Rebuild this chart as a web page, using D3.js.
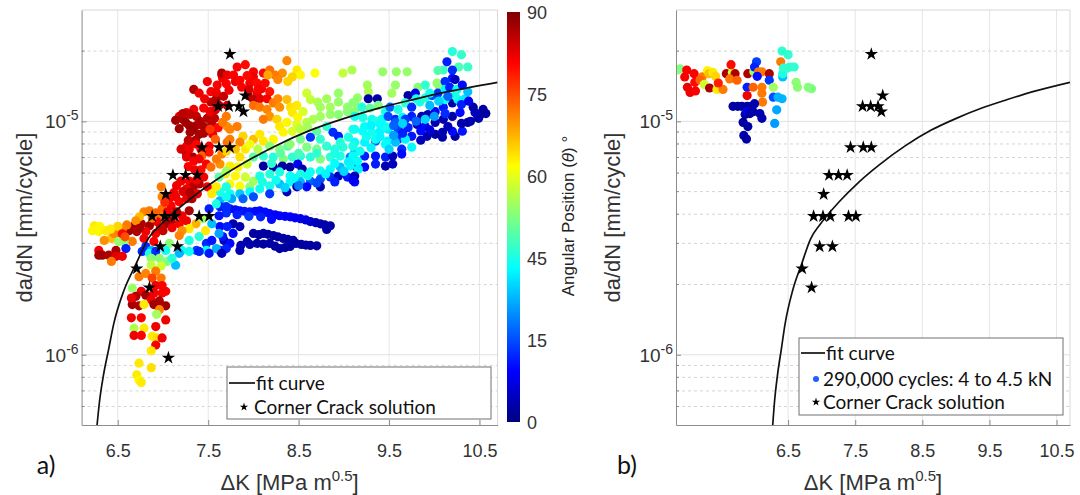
<!DOCTYPE html>
<html>
<head>
<meta charset="utf-8">
<script src="https://cdn.jsdelivr.net/npm/d3@7"></script>
<style>
  body { margin: 0; background: #fff; }
  svg { display: block; }
</style>
</head>
<body>
<svg id="chart" width="1080" height="495"></svg>
<script>
// ---- values ----
const xTicks = [6.5, 7.5, 8.5, 9.5, 10.5];
const yMajorTicks = [1e-6, 1e-5];
const yMinorTicks = [6e-7, 7e-7, 8e-7, 9e-7, 2e-6, 3e-6, 4e-6, 5e-6, 6e-6, 7e-6, 8e-6, 9e-6, 2e-5];
const angleTicks = ['0', '15', '45', '60', '75', '90'];   // colour bar labels, evenly spaced as printed
const rateUnit = 1e-6;  // da/dN values below are in units of 1e-6 mm/cycle

// fit curve
const fitDK   = [6.271, 6.30, 6.34, 6.40, 6.454, 6.569, 6.702, 6.834, 6.987, 7.254, 7.559, 7.863, 8.244, 8.626, 9.006, 9.387, 9.767, 10.148, 10.7];
const fitRate = [0.50, 0.64, 0.81, 1.06, 1.35, 1.89, 2.45, 3.13, 3.65, 4.5, 5.51, 6.53, 7.85, 9.15, 10.3, 11.4, 12.4, 13.4, 14.7];

// corner crack solution [dK, da/dN]
const crackSolution = [
  [7.74,19.4],[7.91,12.9],[7.61,11.6],[7.73,11.6],[7.84,11.6],[7.89,11.0],[7.43,7.74],[7.62,7.74],[7.74,7.74],
  [7.11,5.88],[7.25,5.88],[7.38,5.88],[7.03,4.87],[6.88,3.92],[7.02,3.92],[7.13,3.92],[7.40,3.92],[7.51,3.92],
  [6.97,2.91],[7.16,2.91],[6.71,2.34],[6.85,1.94],[7.06,0.97]
];

// panel a) measured points [dK, da/dN, angle]
const leftPoints = [
  // upper red arm
  [7.65,15.8,79],[7.66,15.3,80],[7.60,14.3,79],[7.53,13.4,79],[7.34,13.7,86],[7.40,13.2,80],[7.18,10.5,81],[7.26,10.9,82],
  [7.34,11.25,80],[7.45,11.4,79],[7.37,10.5,84],[7.29,9.6,87],[7.37,9.6,86],[7.45,9.5,86],[7.54,9.7,85],[7.62,11.7,86],
  [7.71,11.7,84],[7.59,12.5,87],[7.53,12.1,85],[7.70,10.5,68],[7.71,9.5,66],[7.26,7.83,80],[7.34,8.06,81],[7.51,7.83,79],
  [7.71,8.14,69],[7.65,16.1,86],[7.71,15.8,80],[7.78,15.8,79],[7.82,17.1,79],[7.91,17.5,78],[8.0,16.3,79],[8.0,15.5,80],
  [8.11,16.1,78],[7.80,14.8,80],[7.87,14.0,79],[7.96,14.6,79],[8.04,14.6,78],[8.09,13.8,79],[8.18,13.4,77],[8.04,13.2,80],
  [7.94,12.9,86],[8.0,12.4,85],[8.07,12.5,81],[8.15,12.5,79],[7.14,10.1,87],[7.22,10.2,86],[7.30,8.98,87],[7.40,8.8,86],
  [7.26,7.24,86],[7.33,7.03,87],[7.55,8.8,80],[7.61,9.4,78],[7.49,14.8,80],
  [7.22,10.8,85],[7.30,10.7,84],[7.41,10.0,86],[7.49,10.3,85],[7.57,10.3,84],[7.25,9.9,87],[7.33,9.2,87],[7.45,8.9,86],
  [7.52,11.0,80],[7.58,11.2,82],[7.46,12.5,80],[7.59,13.3,80],[7.67,12.8,84],[7.73,13.6,80],[7.70,14.5,79],[7.85,15.0,79],
  [7.93,15.7,78],[7.95,13.7,82],[8.05,13.7,79],[8.13,14.6,78],[7.36,8.3,86],[7.28,8.3,84],[7.42,7.6,80],[7.20,7.6,82],[7.18,9.3,87],
  // orange / yellow ring and green band
  [8.37,18.2,67],[8.48,16.6,58],[8.52,15.8,57],[8.43,15.5,60],[8.32,16.1,66],[8.24,15.8,68],[8.18,16.6,69],[8.16,15.8,64],
  [8.27,15.1,67],[8.38,14.8,60],[8.68,16.1,56],[8.99,16.1,51],[9.09,16.6,49],[8.0,11.7,69],[8.07,11.5,68],[8.15,11.25,67],
  [8.22,12.0,68],[8.27,12.5,67],[8.29,11.5,66],[8.37,12.4,62],[8.41,11.5,59],[8.48,11.7,58],[8.43,10.9,58],[8.49,10.4,57],
  [8.55,11.0,53],[8.59,13.2,52],[8.63,12.4,51],[8.71,12.1,49],[8.81,12.5,48],[8.74,11.5,48],[8.85,11.5,48],[8.94,12.1,47],
  [8.94,13.2,47],[9.04,11.5,47],[9.10,12.0,46],[9.15,12.6,47],[8.18,10.5,66],[8.11,10.2,68],[8.26,10.2,60],[8.29,9.5,58],
  [8.37,9.9,57],[8.48,9.7,53],[8.59,9.9,50],[8.66,10.2,49],[8.74,10.5,48],[8.85,10.7,47],[8.94,10.7,46],[9.04,11.0,46],
  [9.12,11.0,46],[8.33,8.98,57],[8.43,9.07,53],[8.52,9.25,50],[8.60,9.4,48],[8.70,9.07,42],[8.81,9.5,38],[8.88,8.98,15],
  [8.94,8.63,14],[9.05,8.55,36],[9.10,9.25,37],[7.66,9.9,68],[7.74,9.25,67],[7.82,9.5,68],[7.885,8.63,60],[8.0,8.38,62],
  [7.85,8.14,67],[8.11,8.22,58],[8.22,8.38,57],[8.63,8.55,16],
  [7.58,8.38,70],[7.52,9.25,74],[7.74,8.38,68],[7.80,7.6,62],[7.91,7.6,58],[7.85,7.03,59],[7.96,7.98,55],[8.05,7.6,50],[8.07,8.8,58],
  // upper right green / cyan / blue mass
  [9.43,16.3,47],[9.58,16.3,47],[9.70,16.3,47],[9.26,14.3,48],[9.27,13.4,49],[9.53,13.2,48],[9.57,14.3,47],[9.82,14.0,46],
  [10.03,14.6,47],[10.06,14.0,46],[10.20,19.9,37],[10.30,19.3,38],[10.37,17.1,39],[10.27,17.1,40],[10.20,16.6,15],[10.10,16.6,39],
  [10.04,16.5,41],[10.14,18.0,14],[10.20,15.3,13],[10.23,15.1,6],[10.12,14.8,15],[9.27,12.5,3],[9.37,12.5,3],[9.71,12.9,3],
  [9.79,13.2,10],[9.12,12.0,46],[9.20,11.5,37],[9.29,11.4,42],[9.38,11.7,45],[9.46,11.0,36],[9.51,11.5,20],[9.60,11.25,36],
  [9.68,12.0,38],[9.75,11.5,15],[9.84,12.1,36],[9.90,12.6,37],[9.975,12.9,18],[10.04,13.2,15],[10.12,13.7,33],[10.17,14.0,14],
  [10.25,13.7,34],[10.31,14.3,12],[9.12,10.5,35],[9.21,10.4,36],[9.31,10.2,35],[9.42,10.2,34],[9.49,10.5,18],[9.57,10.2,15],
  [9.65,10.4,33],[9.75,10.5,14],[9.86,10.5,4],[9.93,10.7,4],[10.01,11.0,12],[10.10,11.5,13],[10.20,12.0,4],[10.26,12.4,33],
  [10.34,12.5,32],[10.43,11.5,3],[10.54,11.25,3],[9.12,9.25,35],[9.21,9.07,34],[9.31,8.98,35],[9.40,9.07,33],[9.49,9.25,32],
  [9.60,9.25,17],[9.71,9.4,14],[9.81,9.7,5],[9.90,9.5,12],[10.01,9.9,4],[10.10,10.2,4],[10.20,10.5,4],[10.285,10.9,12],
  [10.37,9.9,3],[10.48,10.5,11],[9.12,8.14,34],[9.23,8.14,33],[9.35,8.22,20],[9.48,8.22,33],[9.60,8.38,16],[9.75,8.63,13],
  [9.92,8.63,4],[10.09,8.55,4],[10.23,8.63,3],[10.01,8.8,3],
  [9.23,9.5,34],[9.35,10.0,36],[9.46,9.5,35],[9.57,9.9,19],[9.68,10.2,16],[9.35,8.38,35],[9.46,7.98,34],[9.57,8.14,28],
  [9.68,8.38,33],[9.75,7.75,34],[9.64,7.6,15],[9.12,7.38,28],[9.23,7.1,14],[9.35,7.1,13],[9.46,7.03,14],[9.54,7.1,5],
  [9.64,7.24,12],[9.12,6.43,13],[9.23,6.37,12],[9.35,6.56,14],[9.46,6.43,4],[9.54,6.56,5],[9.12,5.5,12],[10.09,8.98,4],
  [10.20,9.07,12],[10.31,9.07,13],[10.51,10.7,3],[10.57,10.8,3],[10.49,10.3,4],[9.90,14.3,38],[10.23,12.9,36],[10.37,13.4,28],
  [9.95,11.7,28],[10.12,12.4,35],
  [9.8,12.5,36],[9.95,13.2,35],[10.05,12.2,30],[10.15,12.8,20],[10.3,11.8,14],[10.38,12.2,10],[10.45,10.9,5],[9.9,10.2,30],
  [10.0,10.5,25],[10.12,10.8,15],[9.85,9.1,12],[9.95,9.2,8],[10.15,9.5,5],[10.3,9.8,4],[10.4,10.0,4],[9.3,9.6,33],
  [9.4,9.7,34],[9.55,9.6,20],[9.65,9.8,30],[9.8,10.0,20],[9.25,8.6,35],[9.4,8.6,33],[9.55,8.7,25],[9.65,8.9,14],
  [9.85,8.3,5],[9.5,7.6,30],[9.3,7.7,33],
  // middle cyan band and blue tracks
  [8.18,7.83,46],[8.29,7.6,46],[8.38,7.83,41],[8.59,7.75,45],[8.70,7.6,44],[8.81,7.83,38],[8.90,7.6,37],[8.99,7.75,37],
  [9.10,7.83,36],[9.18,7.45,35],[8.63,7.03,37],[8.74,6.89,45],[8.85,7.03,38],[8.96,7.1,36],[9.07,7.03,22],[9.15,6.76,34],
  [8.0,7.03,42],[8.11,7.1,38],[8.22,7.03,37],[8.33,6.89,45],[8.43,7.03,38],[8.52,7.1,37],[7.63,6.56,66],[7.74,6.43,58],
  [7.83,6.37,57],[7.93,6.56,52],[7.69,5.95,58],[7.80,5.83,57],[7.91,5.77,52],[8.0,5.55,48],[7.74,5.39,57],[7.85,5.29,56],
  [7.96,5.24,47],[8.11,6.43,3],[8.22,6.37,3],[8.32,6.43,3],[8.405,6.37,3],[8.49,6.56,10],[8.54,6.25,4],[8.07,5.83,36],
  [8.18,5.95,37],[8.29,6.07,36],[8.405,5.83,35],[8.52,5.95,36],[8.63,6.07,35],[8.74,6.13,35],[8.85,6.25,34],[8.96,6.37,28],
  [9.07,6.43,34],[9.16,6.25,33],[7.63,4.99,36],[7.74,4.89,35],[7.85,4.89,29],[7.96,4.99,34],[8.07,5.14,35],[8.18,5.29,36],
  [8.29,5.39,28],[8.405,5.5,34],[8.52,5.5,27],[8.63,5.55,20],[8.74,5.66,18],[8.85,5.77,15],[8.94,5.83,5],[9.04,5.77,13],
  [9.12,5.83,5],[7.63,4.57,27],[7.76,4.66,26],[7.885,4.66,20],[8.0,4.75,18],[8.18,4.89,16],[8.37,4.99,5],[8.48,5.24,4],
  [8.59,5.24,12],[8.74,5.24,4],[7.63,4.31,14],[7.74,4.22,13],[7.85,4.14,12],[7.96,4.10,13],[8.07,4.14,12],[8.18,4.02,12],
  [8.29,3.94,11],[8.405,3.90,11],[8.52,3.83,10],[8.63,3.72,6],[8.74,3.64,4],[8.85,3.57,3],[8.81,3.44,3],[7.775,3.64,4],
  [7.85,3.54,4],[8.0,3.31,3],[8.11,3.31,3],[8.22,3.24,3],[8.33,3.15,3],[8.44,3.09,3],[8.04,3.0,3],[8.18,3.0,3],
  [8.29,2.85,3],[8.405,2.91,3],[7.86,2.94,4],[8.47,3.0,3],[8.63,2.94,3],[7.675,3.09,5],[7.63,3.54,12],[7.66,3.21,13],
  [7.74,3.0,12],[7.63,2.80,13],[7.85,2.80,5],[7.775,3.31,12],
  [8.74,8.38,38],[8.96,8.14,37],[8.52,8.38,44],[8.405,7.98,46],
  [7.93,3.05,4],[8.06,3.27,3],[8.16,3.28,3],[8.27,3.2,3],[8.38,3.12,3],[8.11,2.98,3],[8.24,2.92,3],[8.35,2.88,3],
  [8.53,2.97,3],[8.58,2.95,3],[8.70,2.93,3],[7.96,2.97,4],
  [7.69,4.27,13],[7.80,4.18,12],[7.90,4.12,13],[8.02,4.12,12],[8.13,4.08,12],[8.24,3.98,11],[8.35,3.92,11],[8.46,3.86,10],
  [8.58,3.78,8],[8.69,3.68,5],[8.79,3.6,4],[7.70,4.05,15],[7.82,3.98,14],[7.95,3.92,16],[8.08,3.9,14],[8.2,3.8,12],
  [8.25,5.6,35],[8.45,5.7,34],[8.6,5.85,35],[8.8,5.95,33],[9.0,6.1,30],[8.1,5.5,36],[8.35,5.2,30],[8.5,5.3,22],
  [8.7,5.45,18],[8.9,5.5,14],[9.1,5.6,10],[8.3,7.3,42],[8.5,7.3,40],[8.7,7.3,38],[8.9,7.3,36],[9.1,7.1,34],
  [8.2,6.6,38],[8.9,6.6,34],[9.05,6.7,33],
  // red / orange band along the curve
  [7.29,7.6,80],[7.37,7.98,79],[7.26,7.03,81],[7.34,6.76,79],[7.43,7.1,70],[7.51,7.38,77],[7.48,6.56,79],[7.53,6.37,69],
  [7.59,6.89,68],[7.65,7.24,67],[7.70,7.45,60],[7.45,5.77,80],[7.49,5.24,80],[7.20,5.55,80],[7.29,5.55,79],[7.34,5.29,86],
  [7.26,5.14,80],[7.40,5.39,86],[6.98,5.24,68],[6.99,4.75,67],[7.07,4.66,79],[7.14,4.75,80],[7.18,4.52,79],[7.26,4.66,80],
  [7.32,4.66,86],[7.38,4.89,81],[7.09,4.35,79],[6.99,4.22,69],[6.96,3.94,68],[6.79,4.10,67],[6.85,4.14,68],[7.21,3.94,80],
  [7.29,4.14,86],[7.26,3.75,80],[7.18,3.64,79],[7.09,3.75,86],[7.03,3.64,87],[6.93,3.72,80],[6.85,3.57,87],[6.76,3.64,86],
  [6.68,3.57,87],[6.625,3.40,87],[6.71,3.37,86],[6.81,3.37,80],[6.92,3.31,79],[6.79,3.15,80],[6.90,3.06,79],[6.66,3.06,68],
  [6.24,3.57,58],[6.29,3.37,57],[6.37,3.40,58],[6.43,3.15,62],[6.46,3.31,67],[6.54,3.24,68],[6.51,3.06,47],[6.57,3.06,46],
  [6.35,3.09,66],[6.22,3.40,57],[7.365,3.64,63],[7.29,3.47,58],[7.21,3.40,66],[7.18,3.24,67],[7.29,3.09,36],[7.40,3.21,37],
  [7.48,3.0,15],[7.54,3.09,13],[7.62,3.31,26],[7.71,3.54,14],[7.07,3.0,46],[7.21,2.80,35],[7.37,2.80,17],[7.48,2.80,34],
  [7.59,2.85,27],[7.70,2.85,14],[6.81,2.91,15],[6.87,2.80,27],[6.59,2.85,14],[6.48,2.80,86],[6.29,2.80,80],[7.70,6.13,48],
  [7.62,5.77,42],[7.59,5.24,58],[7.70,5.24,36],[7.54,4.89,58],[7.51,4.22,14],[7.62,3.94,13],[7.70,4.31,15],[7.59,4.43,36],
  [7.70,4.75,35],[7.54,3.64,28],[7.44,3.83,48],[7.47,3.40,58],
  [7.02,4.5,75],[7.12,4.95,80],[7.22,5.0,82],[7.30,4.95,86],[7.15,5.3,80],[7.37,5.6,80],[7.42,6.2,78],[7.35,6.2,80],
  [7.28,6.4,79],[7.40,6.9,80],[7.05,4.1,80],[7.15,4.1,86],[6.92,4.05,70],[6.88,3.85,68],[6.74,3.9,62],[6.70,3.75,66],
  [6.60,3.6,68],[6.55,3.45,67],[6.50,3.55,60],[6.42,3.45,58],[6.30,3.55,57],[6.97,3.5,82],[7.1,3.5,80],[7.0,3.4,84],
  [6.74,3.48,86],[6.55,3.3,78],[6.58,3.2,72],
  // lower left tail
  [6.33,2.67,87],[6.40,2.67,86],[6.48,2.64,81],[6.43,2.51,68],[6.55,2.64,80],[6.29,2.67,87],[6.77,2.77,14],[6.85,2.72,36],
  [6.92,2.77,15],[7.03,2.80,35],[7.18,2.72,27],[7.29,2.77,35],[7.40,2.77,14],[7.51,2.72,13],[7.65,2.72,5],[6.87,2.59,46],
  [6.96,2.59,46],[7.045,2.51,45],[7.14,2.42,28],[7.10,2.59,37],[6.87,2.42,51],[6.98,2.40,52],[6.92,2.28,68],[6.81,2.23,67],
  [6.735,2.16,68],[6.88,2.13,73],[6.98,2.13,68],[6.92,1.98,80],[6.99,1.98,79],[6.66,1.93,47],[6.76,1.87,80],[6.70,1.78,86],
  [6.81,1.80,87],[6.90,1.84,80],[6.99,1.84,79],[6.87,1.72,80],[6.96,1.70,86],[6.66,1.64,87],[6.735,1.62,86],[6.90,1.64,87],
  [6.98,1.62,86],[7.03,1.62,87],[6.96,1.56,67],[7.03,1.87,79],[6.65,1.75,80],[6.79,1.64,58],[6.65,1.44,80],[6.76,1.44,79],
  [6.93,1.49,48],[7.03,1.41,80],[6.68,1.30,49],[6.79,1.30,58],[6.92,1.32,80],[6.68,1.21,80],[6.76,1.21,79],[6.88,1.20,58],
  [6.93,1.18,59],[6.99,1.18,80],[6.92,1.10,79],[6.87,1.04,58],[6.735,0.92,58],[6.87,0.88,59],[6.71,0.82,58],[6.735,0.78,57],
  [6.76,0.76,58]
];

// panel b) 290,000 cycles: 4 to 4.5 kN [dK, da/dN, angle]
const rightPoints = [
  [4.86,16.6,47],[4.89,16.8,45],[4.99,16.6,79],[4.96,15.5,79],[5.10,16.0,79],[5.11,14.7,78],[5.00,14.0,80],[5.04,13.3,80],
  [5.12,13.5,79],[5.22,15.5,68],[5.19,15.0,70],[5.30,16.5,57],[5.32,16.0,62],[5.38,16.2,58],[5.42,15.6,60],[5.25,14.4,52],
  [5.33,13.9,86],[5.44,13.7,58],[5.53,13.7,68],[5.46,14.6,76],[5.58,16.0,86],[5.67,16.2,52],[5.71,16.0,86],[5.65,17.5,78],
  [5.63,15.2,68],[5.74,15.0,70],[5.90,16.0,86],[5.99,16.3,48],[6.03,18.0,17],[6.00,17.1,14],[6.06,16.3,68],[6.11,16.3,68],
  [6.04,15.6,12],[5.89,14.0,14],[5.98,14.0,70],[6.11,14.0,68],[6.11,13.2,68],[6.12,12.1,68],[5.89,12.9,80],[6.22,16.0,86],
  [6.22,15.0,16],[6.28,14.0,48],
  [5.68,11.6,3],[5.75,11.6,3],[5.81,11.6,3],[5.89,11.6,3],[5.95,11.6,3],[6.00,11.9,4],
  [5.86,10.7,3],[5.89,11.0,10],[6.08,10.8,4],[6.11,10.3,4],[5.83,9.9,3],[5.90,9.5,3],[5.84,8.7,4],[5.88,8.4,3],
  [5.93,10.8,3],[5.98,11.0,4],
  [6.28,12.7,18],[6.35,12.7,27],[6.41,12.5,27],[6.33,11.2,26],[6.30,9.8,25],
  [6.39,18.0,68],[6.42,15.5,28],[6.42,16.0,36],[6.41,20.0,38],[6.50,19.3,38],
  [6.43,16.9,38],[6.48,16.9,38],[6.53,17.1,38],[6.59,17.1,38],
  [6.62,14.7,46],[6.64,14.0,46],[6.80,14.0,46],[6.85,13.8,45]
];

// ---- drawing ----
const svg = d3.select('#chart');
const defs = svg.append('defs');
const rateDomain = [5e-7, 3e-5];
const axisFont = '"Liberation Sans", Arial, sans-serif';
const legendFont = 'Lato, "Open Sans", sans-serif';

// MATLAB jet colormap
function jet(t) {
  const c = v => Math.max(0, Math.min(1, v));
  return d3.rgb(255 * c(1.5 - Math.abs(4 * t - 3)), 255 * c(1.5 - Math.abs(4 * t - 2)), 255 * c(1.5 - Math.abs(4 * t - 1))).toString();
}
const color = d3.scaleSequential(jet).domain([0, 90]);
const star = d3.symbol(d3.symbolStar);

const panels = [
  {id: 'a', left: 81.6, right: 497.6, top: 10, bottom: 425, xDomain: [6.1, 10.7], points: leftPoints, yLabelX: 32, tag: 'a)', tagX: 46},
  {id: 'b', left: 676, right: 1070, top: 10, bottom: 425, xDomain: [4.83, 10.7], points: rightPoints, yLabelX: 620, tag: 'b)', tagX: 627}
];

function drawPanel(p) {
  const x = d3.scaleLinear().domain(p.xDomain).range([p.left, p.right]);
  const y = d3.scaleLog().domain(rateDomain).range([p.bottom, p.top]);
  const g = svg.append('g');

  defs.append('clipPath').attr('id', 'clip-' + p.id)
    .append('rect').attr('x', p.left).attr('y', p.top)
    .attr('width', p.right - p.left).attr('height', p.bottom - p.top);

  // grid
  g.append('g').selectAll('line').data(yMinorTicks).join('line')
    .attr('x1', p.left).attr('x2', p.right).attr('y1', d => y(d)).attr('y2', d => y(d))
    .attr('stroke', '#d4d4d4').attr('stroke-dasharray', '3,3');
  g.append('g').selectAll('line').data(yMajorTicks).join('line')
    .attr('x1', p.left).attr('x2', p.right).attr('y1', d => y(d)).attr('y2', d => y(d))
    .attr('stroke', '#e0e0e0');
  g.append('g').selectAll('line').data(xTicks).join('line')
    .attr('x1', d => x(d)).attr('x2', d => x(d)).attr('y1', p.top).attr('y2', p.bottom)
    .attr('stroke', '#e6e6e6');

  // box top / right
  g.append('path')
    .attr('d', `M${p.left},${p.top}H${p.right}V${p.bottom}`)
    .attr('fill', 'none').attr('stroke', '#d8d8d8');

  const plot = g.append('g').attr('clip-path', `url(#clip-${p.id})`);
  plot.append('g').selectAll('circle').data(p.points).join('circle')
    .attr('cx', d => x(d[0])).attr('cy', d => y(d[1] * rateUnit))
    .attr('r', 4.6).attr('fill', d => color(d[2]));

  plot.append('path')
    .datum(d3.zip(fitDK, fitRate))
    .attr('d', d3.line().x(d => x(d[0])).y(d => y(d[1] * rateUnit)).curve(d3.curveMonotoneX))
    .attr('fill', 'none').attr('stroke', '#111').attr('stroke-width', 1.7);

  plot.append('g').selectAll('path').data(crackSolution).join('path')
    .attr('transform', d => `translate(${x(d[0])},${y(d[1] * rateUnit)})`)
    .attr('d', star.size(55)()).attr('fill', '#000');

  // x axis
  const gx = g.append('g').attr('transform', `translate(0,${p.bottom})`)
    .call(d3.axisBottom(x).tickValues(xTicks).tickFormat(d3.format('.1f'))
      .tickSizeInner(-5).tickSizeOuter(0).tickPadding(19));
  gx.select('.domain').attr('stroke', '#8c8c8c');
  gx.selectAll('.tick line').attr('stroke', '#8c8c8c');
  gx.selectAll('.tick text').attr('font-size', 18).attr('font-family', axisFont).attr('fill', '#333');

  // y axis
  const gy = g.append('g').attr('transform', `translate(${p.left},0)`)
    .call(d3.axisLeft(y).tickValues(yMajorTicks).tickFormat('').tickSizeInner(-5).tickSizeOuter(0));
  gy.select('.domain').attr('stroke', '#8c8c8c');
  gy.selectAll('.tick line').attr('stroke', '#8c8c8c');
  g.append('g').selectAll('line').data(yMinorTicks).join('line')
    .attr('x1', p.left).attr('x2', p.left + 3).attr('y1', d => y(d)).attr('y2', d => y(d))
    .attr('stroke', '#8c8c8c');

  const yl = g.append('g').selectAll('text').data(yMajorTicks).join('text')
    .attr('x', p.left - 3).attr('y', d => y(d) + 7)
    .attr('text-anchor', 'end').attr('font-family', axisFont).attr('font-size', 19).attr('fill', '#333');
  yl.append('tspan').text('10');
  yl.append('tspan').attr('dy', -8).attr('font-size', 14).text(d => Math.round(Math.log10(d)));

  // titles
  g.append('text')
    .attr('transform', `translate(${p.yLabelX},${(p.top + p.bottom) / 2}) rotate(-90)`)
    .attr('text-anchor', 'middle').attr('font-family', axisFont).attr('font-size', 22).attr('fill', '#333')
    .text('da/dN [mm/cycle]');

  const xl = g.append('text')
    .attr('x', (p.left + p.right) / 2).attr('y', 490)
    .attr('text-anchor', 'middle').attr('font-family', axisFont).attr('font-size', 22).attr('fill', '#333');
  xl.append('tspan').text('\u0394K [MPa m');
  xl.append('tspan').attr('dy', -9).attr('font-size', 15).text('0.5');
  xl.append('tspan').attr('dy', 9).text(']');

  g.append('text').attr('x', p.tagX).attr('y', 474)
    .attr('text-anchor', 'middle').attr('font-family', legendFont).attr('font-size', 25).attr('fill', '#111')
    .text(p.tag);
}

panels.forEach(drawPanel);

// colour bar
const cbTop = 12, cbBottom = 422, cbX = 507, cbW = 13;
const grad = defs.append('linearGradient').attr('id', 'jetGrad')
  .attr('x1', 0).attr('y1', 1).attr('x2', 0).attr('y2', 0);
grad.selectAll('stop').data(d3.range(0, 1.0001, 0.025)).join('stop')
  .attr('offset', d => d).attr('stop-color', d => jet(d));
svg.append('rect').attr('x', cbX).attr('y', cbTop).attr('width', cbW).attr('height', cbBottom - cbTop)
  .attr('fill', 'url(#jetGrad)');
const cbPos = d3.scalePoint().domain(angleTicks).range([cbBottom, cbTop]);
svg.append('g').selectAll('text').data(angleTicks).join('text')
  .attr('x', cbX + cbW + 7).attr('y', d => cbPos(d) + 6.5)
  .attr('font-family', axisFont).attr('font-size', 18).attr('fill', '#333')
  .text(d => d);
const cbl = svg.append('text')
  .attr('transform', `translate(574,216) rotate(-90)`)
  .attr('text-anchor', 'middle').attr('font-family', axisFont).attr('font-size', 17).attr('fill', '#222');
cbl.append('tspan').text('Angular Position (');
cbl.append('tspan').attr('font-style', 'italic').text('\u03b8');
cbl.append('tspan').text(') \u00b0');

// legends
function legendBox(x, y, w, h) {
  const g = svg.append('g');
  g.append('rect').attr('x', x).attr('y', y).attr('width', w).attr('height', h)
    .attr('fill', '#fff').attr('stroke', '#707070');
  return g;
}
function legendText(g, x, y, s) {
  g.append('text').attr('x', x).attr('y', y).attr('dy', '0.35em')
    .attr('font-family', legendFont).attr('font-size', 19).attr('fill', '#111').text(s);
}

const la = legendBox(227, 367, 264, 52);
la.append('line').attr('x1', 229).attr('x2', 255).attr('y1', 383).attr('y2', 383).attr('stroke', '#111').attr('stroke-width', 1.7);
legendText(la, 256, 383, 'fit curve');
la.append('path').attr('transform', 'translate(244,407)').attr('d', star.size(22)()).attr('fill', '#000');
legendText(la, 254, 407, 'Corner Crack solution');

const lb = legendBox(799, 338, 264, 77);
lb.append('line').attr('x1', 801).attr('x2', 825).attr('y1', 353).attr('y2', 353).attr('stroke', '#111').attr('stroke-width', 1.7);
legendText(lb, 826, 353, 'fit curve');
lb.append('circle').attr('cx', 816).attr('cy', 379).attr('r', 3).attr('fill', '#1f5fff');
legendText(lb, 823, 379, '290,000 cycles: 4 to 4.5 kN');
lb.append('path').attr('transform', 'translate(816,402)').attr('d', star.size(22)()).attr('fill', '#000');
legendText(lb, 823, 402, 'Corner Crack solution');
</script>
</body>
</html>
